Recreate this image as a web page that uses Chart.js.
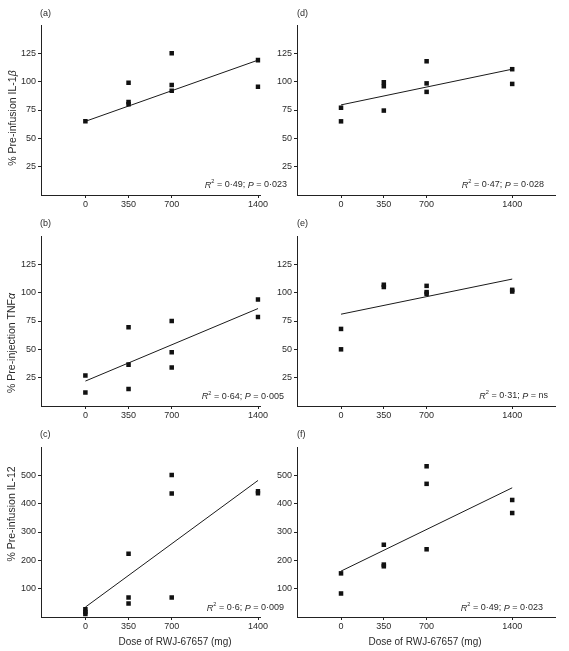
<!DOCTYPE html>
<html><head><meta charset="utf-8">
<script src="https://cdn.jsdelivr.net/npm/chart.js@4.4.1/dist/chart.umd.min.js"></script>
<style>
html,body{margin:0;padding:0;background:#fff;width:569px;height:651px;overflow:hidden;position:relative}
canvas{position:absolute}
</style></head><body>
<script>
// ---------- data ----------
const doses = [0, 350, 700, 1400];
const xTicks = [0, 350, 700, 1400];
const yTicksPct = [25, 50, 75, 100, 125];
const yTicksIL12 = [100, 200, 300, 400, 500];
const fitDoses = [0, 1400];

// values grouped by dose (0, 350, 700, 1400)
const il1bRwj = [[65], [99, 82, 80], [125, 97, 92], [119, 95.5]];          // (a)
const tnfRwj  = [[27, 12], [69.5, 36.5, 15], [75, 47.5, 34], [94, 78.5]];   // (b)
const il12Rwj = [[27, 18, 11], [223, 69, 48], [501, 436, 69], [444, 437]];  // (c)
const il1bD   = [[77, 65], [99.5, 96, 74.5], [118, 98.5, 91], [111, 98]];   // (d)
const tnfE    = [[68, 50], [107, 105], [106, 100.5, 99], [102.5, 101]];     // (e)
const il12F   = [[154, 83], [255, 185, 179], [532, 470, 239], [413, 367]];  // (f)

// fitted line values at dose 0 and 1400
const fitA = [65, 119];
const fitB = [22, 86];
const fitC = [35, 482];
const fitD = [79.5, 111];
const fitE = [81, 112];
const fitF = [162, 456];

const r2Values = ['0·49', '0·64', '0·6', '0·47', '0·31', '0·49'];
const pValues  = ['0·023', '0·005', '0·009', '0·028', 'ns', '0·023'];
const panelLetters = ['(a)', '(b)', '(c)', '(d)', '(e)', '(f)'];
const xTitle = 'Dose of RWJ-67657 (mg)';

// ---------- layout ----------
const FONT = '"Liberation Sans", Arial, Helvetica, sans-serif';
const TXT = '#2a2a2a';
const AX = '#222';
Chart.defaults.font.family = FONT;

const panels = [
  {vals: il1bRwj, fit: fitA, yTicks: yTicksPct, ymax: 150, cx: 0, cy: 0, cw: 300, ch: 220, L: 41, R: 260.5, T: 25, B: 195, xmin: -360, xmax: 1420,
   ytitle: [{t: '% Pre-infusion IL-1'}, {t: 'β', i: true}], ytx: 13, yty: 118, lab: [40, 14], stat: [287, 185]},
  {vals: tnfRwj, fit: fitB, yTicks: yTicksPct, ymax: 150, cx: 0, cy: 211, cw: 300, ch: 220, L: 41, R: 260.5, T: 236, B: 406, xmin: -360, xmax: 1420,
   ytitle: [{t: '% Pre-injection TNF'}, {t: 'α', i: true}], ytx: 12, yty: 343, lab: [40, 224], stat: [284, 396.5]},
  {vals: il12Rwj, fit: fitC, yTicks: yTicksIL12, ymax: 600, cx: 0, cy: 422, cw: 300, ch: 229, L: 41, R: 260.5, T: 447, B: 617, xmin: -360, xmax: 1420,
   ytitle: [{t: '% Pre-infusion IL-12'}], ytx: 12, yty: 514, lab: [40, 435], stat: [284, 608], xt: [175, 642]},
  {vals: il1bD, fit: fitD, yTicks: yTicksPct, ymax: 150, cx: 260, cy: 0, cw: 309, ch: 220, L: 297, R: 555, T: 25, B: 195, xmin: -360, xmax: 1750,
   lab: [297, 14], stat: [544, 185]},
  {vals: tnfE, fit: fitE, yTicks: yTicksPct, ymax: 150, cx: 260, cy: 211, cw: 309, ch: 220, L: 297, R: 555, T: 236, B: 406, xmin: -360, xmax: 1750,
   lab: [297, 224], stat: [548, 396]},
  {vals: il12F, fit: fitF, yTicks: yTicksIL12, ymax: 600, cx: 260, cy: 422, cw: 309, ch: 229, L: 297, R: 555, T: 447, B: 617, xmin: -360, xmax: 1750,
   lab: [297, 435], stat: [543, 608], xt: [425, 642]}
];

function segWidth(ctx, segs, size) {
  let w = 0;
  for (const s of segs) {
    const sz = s.sup ? size * 0.62 : size;
    ctx.font = (s.i ? 'italic ' : '') + sz + 'px ' + FONT;
    w += ctx.measureText(s.t).width;
  }
  return w;
}
function drawSegs(ctx, segs, x, y, size) {
  let cx = x;
  for (const s of segs) {
    const sz = s.sup ? size * 0.62 : size;
    ctx.font = (s.i ? 'italic ' : '') + sz + 'px ' + FONT;
    ctx.fillText(s.t, cx, s.sup ? y - size * 0.38 : y);
    cx += ctx.measureText(s.t).width;
  }
}

const textPlugin = {
  id: 'panelText',
  afterDraw(chart) {
    const p = chart.options.plugins.panelText;
    const ctx = chart.ctx;
    ctx.save();
    ctx.fillStyle = TXT;
    ctx.textBaseline = 'middle';
    ctx.font = '9px ' + FONT;
    ctx.textAlign = 'left';
    ctx.fillText(p.letter, p.lab[0] - p.cx, p.lab[1] - p.cy);
    const segs = [{t: 'R', i: true}, {t: '2', sup: true}, {t: ' = ' + p.r2 + '; '}, {t: 'P', i: true}, {t: ' = ' + p.p}];
    const w = segWidth(ctx, segs, 9);
    drawSegs(ctx, segs, p.stat[0] - p.cx - w, p.stat[1] - p.cy, 9);
    if (p.ytitle) {
      const tw = segWidth(ctx, p.ytitle, 10.5);
      ctx.save();
      ctx.translate(p.ytx - p.cx, p.yty - p.cy);
      ctx.rotate(-Math.PI / 2);
      drawSegs(ctx, p.ytitle, -tw / 2, 0, 10.5);
      ctx.restore();
    }
    if (p.xt) {
      ctx.font = '10px ' + FONT;
      ctx.textAlign = 'center';
      ctx.fillText(xTitle, p.xt[0] - p.cx, p.xt[1] - p.cy);
    }
    ctx.restore();
  }
};

panels.forEach((p, k) => {
  const c = document.createElement('canvas');
  c.width = p.cw; c.height = p.ch;
  c.style.left = p.cx + 'px'; c.style.top = p.cy + 'px';
  c.style.width = p.cw + 'px'; c.style.height = p.ch + 'px';
  document.body.appendChild(c);
  const pts = [];
  p.vals.forEach((arr, i) => arr.forEach(v => pts.push({x: doses[i], y: v})));
  const fitPts = fitDoses.map((d, i) => ({x: d, y: p.fit[i]}));
  const tickFont = {size: 9, family: FONT};
  new Chart(c, {
    type: 'scatter',
    data: {datasets: [
      {type: 'line', data: fitPts, borderColor: '#1a1a1a', borderWidth: 1, pointRadius: 0, fill: false, tension: 0, order: 2},
      {type: 'scatter', data: pts, pointStyle: 'rect', pointRadius: 3.2, backgroundColor: '#111', borderColor: '#111', borderWidth: 0, order: 1}
    ]},
    options: {
      responsive: false, animation: false, devicePixelRatio: 1,
      layout: {padding: {left: 0, top: p.T - p.cy, right: p.cx + p.cw - p.R, bottom: 0}},
      plugins: {
        legend: {display: false}, tooltip: {enabled: false},
        panelText: Object.assign({letter: panelLetters[k], r2: r2Values[k], p: pValues[k]}, p)
      },
      scales: {
        x: {
          type: 'linear', min: p.xmin, max: p.xmax,
          afterBuildTicks: s => { s.ticks = xTicks.map(v => ({value: v})); },
          afterFit: s => { s.height = p.cy + p.ch - p.B; },
          grid: {display: true, drawOnChartArea: false, drawTicks: true, tickLength: 3, color: AX, lineWidth: 1},
          border: {display: true, color: AX, width: 1},
          ticks: {font: tickFont, color: TXT, padding: 1, maxRotation: 0, autoSkip: false, callback: v => String(v)}
        },
        y: {
          type: 'linear', min: 0, max: p.ymax,
          afterBuildTicks: s => { s.ticks = p.yTicks.map(v => ({value: v})); },
          afterFit: s => { s.width = p.L - p.cx; },
          grid: {display: true, drawOnChartArea: false, drawTicks: true, tickLength: 3, color: AX, lineWidth: 1},
          border: {display: true, color: AX, width: 1},
          ticks: {font: tickFont, color: TXT, padding: 2, autoSkip: false, callback: v => String(v)}
        }
      }
    },
    plugins: [textPlugin]
  });
});
</script>
</body></html>
